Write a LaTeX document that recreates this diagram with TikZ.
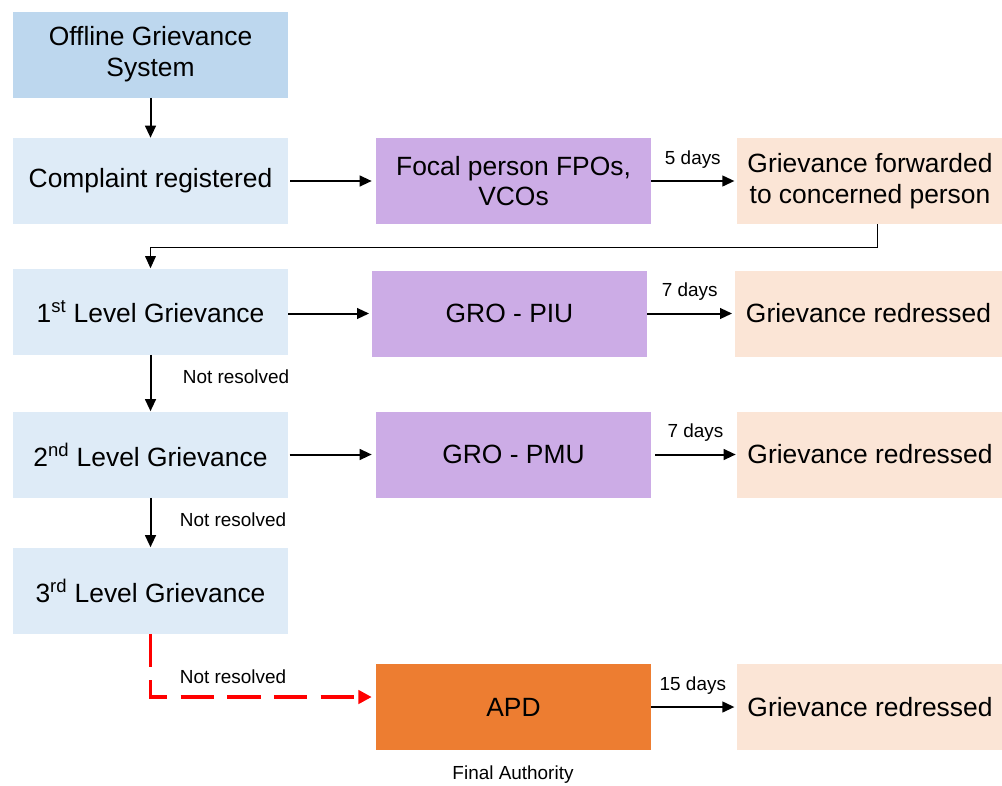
\documentclass[tikz,border=0pt]{standalone}
\usepackage{fontspec}
\setmainfont{Liberation Sans}
\usetikzlibrary{arrows.meta}
\definecolor{cHead}{HTML}{BDD7EE}
\definecolor{cLevel}{HTML}{DEEBF7}
\definecolor{cPurple}{HTML}{CCACE6}
\definecolor{cPeach}{HTML}{FBE5D6}
\definecolor{cOrange}{HTML}{ED7D31}
\tikzset{
  box/.style={minimum width=206.25pt, minimum height=64.5pt, inner sep=0pt, align=center,
    font=\fontsize{19.8}{23}\selectfont, text=black},
  widebox/.style={box, minimum width=199pt},
  arr/.style={line width=1.5pt, -{Triangle[length=9pt,width=8pt]}},
  thinarr/.style={line width=0.75pt, -{Triangle[length=9pt,width=8pt]}},
  lbl/.style={font=\fontsize{14.2}{16}\selectfont, inner sep=0pt},
  redarr/.style={line width=2.5pt, red, dash pattern=on 25pt off 10pt, -{Triangle[length=10pt,width=10pt]}}
}
\begin{document}
\begin{tikzpicture}[x=0.75pt,y=-0.75pt]
\useasboundingbox (0,0) rectangle (1002,785);
\node[box, fill=cHead] (off) at (150.5,54.5) {Offline Grievance\\System};
\node[box, fill=cLevel] (comp) at (150.5,181) {Complaint registered};
\node[box, fill=cPurple] (focal) at (513.5,181) {Focal person FPOs,\\VCOs};
\node[widebox, fill=cPeach] (fwd) at (870,181) {Grievance forwarded\\to concerned person};
\node[box, fill=cLevel] (l1) at (150.5,311.5) {1\textsuperscript{st} Level Grievance};
\node[box, fill=cPurple] (piu) at (509.5,313.5) {GRO - PIU};
\node[box, fill=cPeach, minimum width=200.25pt] (red1) at (868.5,313.5) {Grievance redressed};
\node[box, fill=cLevel] (l2) at (150.5,454.5) {2\textsuperscript{nd} Level Grievance};
\node[box, fill=cPurple] (pmu) at (513.5,454.5) {GRO - PMU};
\node[widebox, fill=cPeach] (red2) at (870,454.5) {Grievance redressed};
\node[box, fill=cLevel] (l3) at (150.5,590.5) {3\textsuperscript{rd} Level Grievance};
\node[box, fill=cOrange] (apd) at (513.5,707) {APD};
\node[widebox, fill=cPeach] (red3) at (870,707) {Grievance redressed};
\node[lbl] (fa) at (513,775) {Final Authority};

\draw[arr] (off.south) -- (comp.north);
\draw[arr] ([xshift=1.5pt]comp.east) -- ([xshift=-3pt]focal.west);
\draw[arr] (focal.east) -- ([xshift=-2pt]fwd.west) node[lbl, midway, above=9pt] (d5) {5 days};
\coordinate (fb1) at (877,247);
\coordinate (fb2) at (150.5,247);
\draw[thinarr] (fwd.south -| fb1) -- (fb1) -- (fb2) -- (l1.north);
\draw[arr] (l1.east |- piu.west) -- ([xshift=-2pt]piu.west);
\draw[arr] (piu.east) -- ([xshift=-2pt]red1.west) node[lbl, midway, above=9pt] (d7a) {7 days};
\draw[arr] (l1.south) -- (l2.north);
\node[lbl] (nr1) at (236,377) {Not resolved};
\draw[arr] ([xshift=1pt]l2.east) -- ([xshift=-3pt]pmu.west);
\draw[arr] ([xshift=3pt]pmu.east) -- ([xshift=-1pt]red2.west) node[lbl, midway, above=9pt] (d7b) {7 days};
\draw[arr] (l2.south) -- (l3.north);
\node[lbl] (nr2) at (233,520) {Not resolved};
\coordinate (rc) at (150.5,697);
\draw[redarr, line join=miter] (l3.south) -- (rc) -- ([xshift=-3pt]rc -| apd.west);
\node[lbl] (nr3) at (233,677) {Not resolved};
\draw[arr] (apd.east) -- ([xshift=-2pt]red3.west) node[lbl, midway, above=9pt] (d15) {15 days};
\end{tikzpicture}
\end{document}
